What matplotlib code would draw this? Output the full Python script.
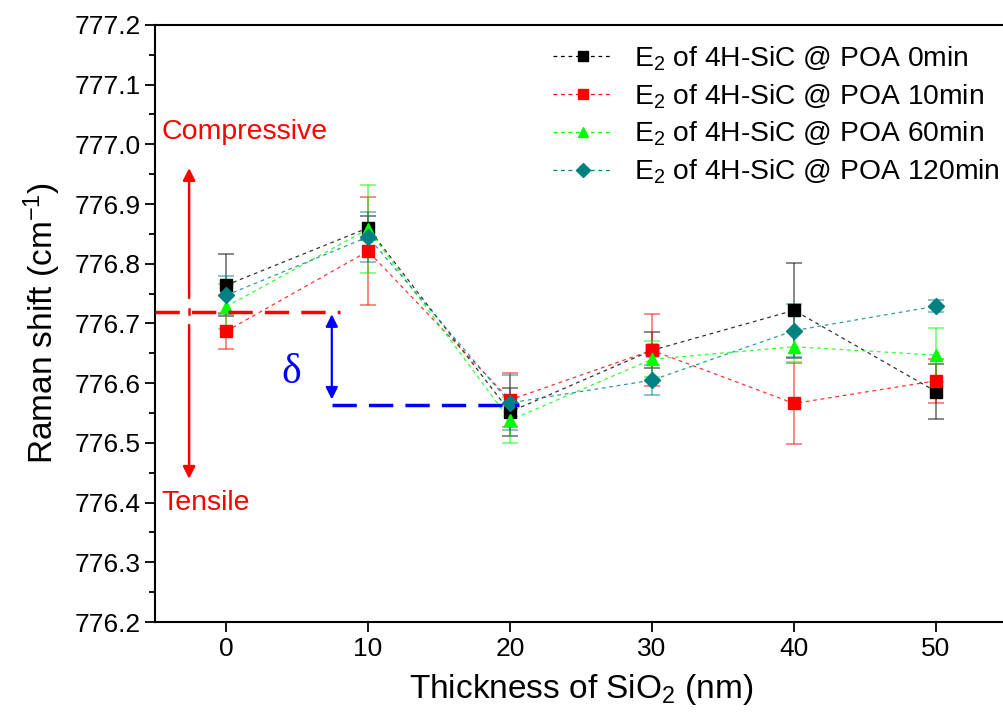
import matplotlib
matplotlib.use('Agg')
import matplotlib.pyplot as plt
from matplotlib.ticker import MultipleLocator

plt.rcParams['font.family'] = ['Liberation Sans', 'DejaVu Sans']
plt.rcParams['mathtext.fontset'] = 'custom'
plt.rcParams['mathtext.rm'] = 'Liberation Sans'
plt.rcParams['mathtext.it'] = 'Liberation Sans:italic'

thickness = [0, 10, 20, 30, 40, 50]

poa0 = [776.764, 776.860, 776.552, 776.655, 776.722, 776.586]
poa0_err = [0.052, 0.02, 0.04, 0.03, 0.08, 0.046]
poa10 = [776.687, 776.821, 776.572, 776.655, 776.566, 776.604]
poa10_err = [0.03, 0.09, 0.045, 0.06, 0.068, 0.037]
poa60 = [776.728, 776.858, 776.538, 776.640, 776.661, 776.647]
poa60_err = [0.038, 0.074, 0.038, 0.03, 0.026, 0.045]
poa120 = [776.747, 776.845, 776.567, 776.605, 776.688, 776.729]
poa120_err = [0.032, 0.042, 0.046, 0.025, 0.045, 0.01]

labels = ['E$_2$ of 4H-SiC @ POA 0min', 'E$_2$ of 4H-SiC @ POA 10min',
          'E$_2$ of 4H-SiC @ POA 60min', 'E$_2$ of 4H-SiC @ POA 120min']
colors = ['#000000', '#FF0000', '#00FF00', '#008080']
markers = ['s', 's', '^', 'D']

fig = plt.figure(figsize=(10.04, 7.22), dpi=100)
ax = fig.add_axes([0.1544, 0.1385, 0.8486, 0.827])

series = [(poa0, poa0_err), (poa10, poa10_err), (poa60, poa60_err), (poa120, poa120_err)]
for (vals, errs), lab, c, m in zip(series, labels, colors, markers):
    ax.errorbar(thickness, vals, yerr=errs, fmt='none', ecolor=c, alpha=0.55,
                elinewidth=1.2, capsize=6, capthick=1.2, zorder=2)
    ax.plot(thickness, vals, linestyle=(0, (3, 3)), linewidth=0.9, color=c, alpha=0.8,
            zorder=3)
    ax.plot(thickness, vals, linestyle='none', marker=m, markersize=8 if m != 'D' else 8.5,
            color=c, zorder=4)
    ax.plot([], [], linestyle=(0, (3, 3)), linewidth=0.9, color=c, marker=m,
            markersize=7, label=lab)

# strain annotation
ax.plot([-5, 8.0], [776.72, 776.72], color='red', linewidth=2.5, linestyle=(0, (7, 3.5)),
        zorder=5)
ax.annotate('', xy=(-2.6, 776.965), xytext=(-2.6, 776.738),
            arrowprops=dict(arrowstyle='-|>', color='red', lw=1.8, mutation_scale=18))
ax.annotate('', xy=(-2.6, 776.435), xytext=(-2.6, 776.702),
            arrowprops=dict(arrowstyle='-|>', color='red', lw=1.8, mutation_scale=18))
ax.plot([-2.6, -2.6], [776.716, 776.724], color='red', linewidth=1.8)
ax.text(-4.55, 777.02, 'Compressive', color='red', fontsize=20.5, va='center', ha='left')
ax.text(-4.55, 776.40, 'Tensile', color='red', fontsize=20.5, va='center', ha='left')

ax.plot([7.45, 20.6], [776.563, 776.563], color='blue', linewidth=2.5,
        linestyle=(0, (7, 3.5)), zorder=5)
ax.annotate('', xy=(7.45, 776.72), xytext=(7.45, 776.568),
            arrowprops=dict(arrowstyle='<|-|>', color='blue', lw=1.6, mutation_scale=18))
ax.text(4.6, 776.617, 'δ', color='blue', fontsize=30, ha='center', va='center',
        family=['Liberation Serif', 'DejaVu Serif'])

ax.set_xlim(-5, 55)
ax.set_ylim(776.2, 777.2)
ax.xaxis.set_major_locator(MultipleLocator(10))
ax.yaxis.set_major_locator(MultipleLocator(0.1))
ax.yaxis.set_minor_locator(MultipleLocator(0.05))
ax.yaxis.set_major_formatter(matplotlib.ticker.FormatStrFormatter('%.1f'))
ax.tick_params(axis='both', which='major', direction='out', length=7, width=1.3,
               labelsize=19, top=False, right=False)
ax.tick_params(axis='y', which='minor', direction='out', length=4, width=1.3)
for s in ax.spines.values():
    s.set_linewidth(1.5)

ax.set_xlabel('Thickness of SiO$_2$ (nm)', fontsize=24, labelpad=8)
ax.set_ylabel('Raman shift (cm$^{-1}$)', fontsize=24, labelpad=8)

ax.legend(loc='upper right', bbox_to_anchor=(1.021, 1.01), frameon=False, fontsize=20.3,
          handlelength=2.1, handletextpad=0.75, labelspacing=0.33)

fig.savefig('out.png', dpi=100)
